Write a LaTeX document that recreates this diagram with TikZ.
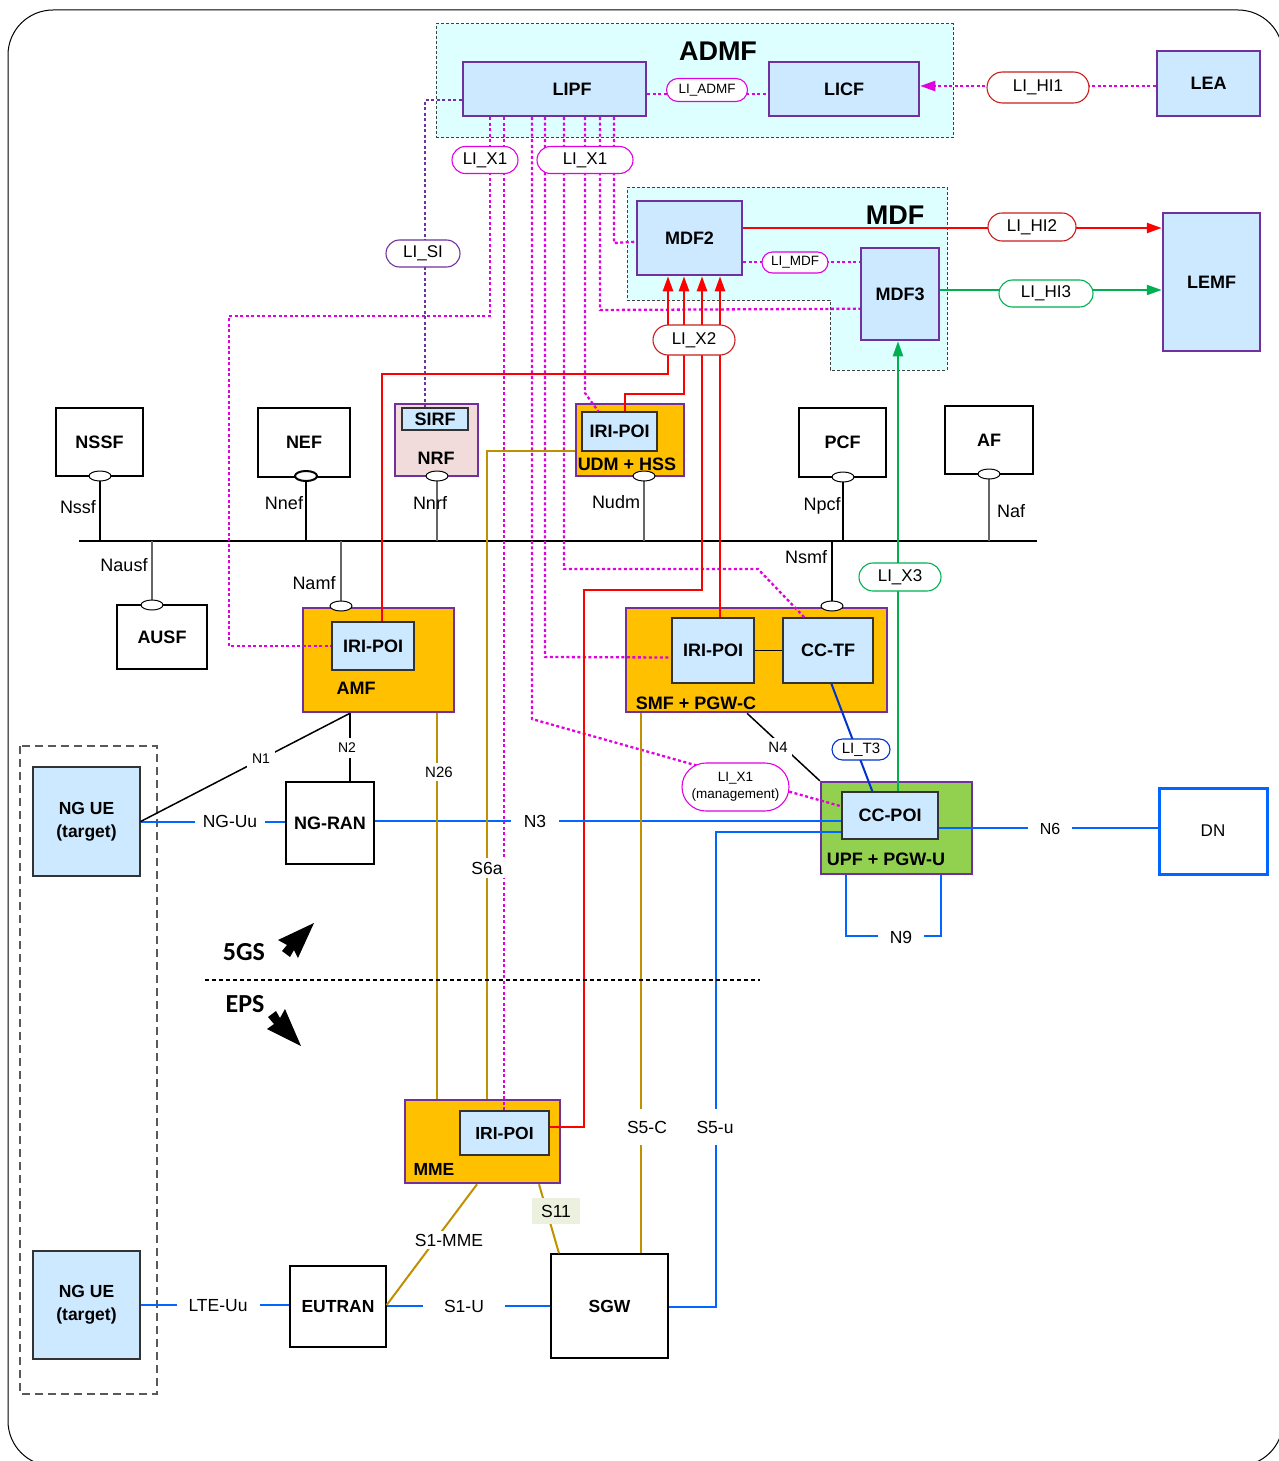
\documentclass[tikz,border=0pt]{standalone}
\usepackage{fontspec}
\setmainfont{Liberation Sans}
\newfontfamily\carl{Carlito}
\usetikzlibrary{shapes.misc,shapes.geometric,arrows.meta}
\definecolor{cyanbg}{RGB}{221,255,255}
\definecolor{lblue}{RGB}{204,233,255}
\definecolor{purp}{RGB}{112,48,160}
\definecolor{orng}{RGB}{255,192,0}
\definecolor{lgreen}{RGB}{146,208,80}
\definecolor{pinkf}{RGB}{242,220,219}
\definecolor{mag}{RGB}{224,0,224}
\definecolor{redl}{RGB}{255,0,0}
\definecolor{darkred}{RGB}{200,30,30}
\definecolor{greenl}{RGB}{0,176,80}
\definecolor{bluel}{RGB}{0,102,255}
\definecolor{blued}{RGB}{0,51,204}
\definecolor{gold}{RGB}{191,144,0}
\definecolor{s11bg}{RGB}{235,241,222}
\pgfdeclarelayer{bg}
\pgfdeclarelayer{fg}
\pgfsetlayers{bg,main,fg}
\newcommand\fsz[2]{\fontsize{#1}{#2}\selectfont}
\tikzset{
 wh/.style 2 args={minimum width=#1pt, minimum height=#2pt},
 pbox/.style={draw=purp, line width=2.5pt, fill=lblue, inner sep=0pt, font=\bfseries\fsz{18}{21}},
 cbox/.style={draw=purp, line width=2.5pt, inner sep=0pt},
 ibox/.style={draw=black!80, line width=1.3pt, fill=lblue, inner sep=0pt, font=\bfseries\fsz{18}{22}},
 wbox/.style={draw=black, line width=1.3pt, fill=white, inner sep=0pt, font=\bfseries\fsz{18}{21}},
 pill/.style={rounded rectangle, draw=#1, fill=white, line width=1.1pt, inner sep=0pt, font=\fsz{17}{20}},
 btxt/.style={inner sep=0pt, font=\bfseries\fsz{18}{21}},
 txt/.style={inner sep=0pt, font=\fsz{18}{21}},
 gap/.style={fill=white, inner xsep=#1pt, inner ysep=4pt, font=\fsz{17.5}{20}},
 vgap/.style={fill=white, inner xsep=3pt, inner ysep=#1pt, font=\fsz{17.5}{20}},
 ov/.style={ellipse, draw, fill=white, line width=1pt, minimum width=22pt, minimum height=10pt, inner sep=0pt},
 magd/.style={draw=mag, line width=2.3pt, dash pattern=on 3pt off 2.5pt},
 purd/.style={draw=purp, line width=2.6pt, dash pattern=on 3pt off 2.5pt},
 redw/.style={draw=redl, line width=2.5pt},
 grnw/.style={draw=greenl, line width=2.2pt},
 blw/.style={draw=bluel, line width=2pt},
 gldw/.style={draw=gold, line width=2pt},
 blk/.style={draw=black, line width=1.5pt},
 gry/.style={draw=black!60, line width=1.5pt},
 arrowend/.style={-{Triangle[length=15pt,width=10pt]}},
 region/.style={fill=cyanbg, draw=black!75, line width=1pt, dash pattern=on 3pt off 2pt, inner sep=0pt},
}
\begin{document}
\begin{tikzpicture}[x=1pt,y=-1pt]
\useasboundingbox (0,0) rectangle (1279,1461);
\begin{pgfonlayer}{bg}
\draw[line width=1pt, rounded corners=45pt] (8,10) rectangle (1283,1466);
\node[region, wh={517}{114}] (admf) at (694.5,81) {};
\draw[region] (627,187) -- (947,187) -- (947,370) -- (830,370) -- (830,300) -- (627,300) -- cycle;
\node[cbox, fill=pinkf, wh={83}{72}] (nrf) at (436.5,440) {};
\node[cbox, fill=orng, wh={108}{72}] (udm) at (630,440) {};
\node[cbox, fill=orng, wh={151}{104}] (amf) at (378.5,660) {};
\node[cbox, fill=orng, wh={261}{104}] (smf) at (756.5,660) {};
\node[cbox, fill=lgreen, wh={151}{92}] (upf) at (896.5,828) {};
\node[cbox, fill=orng, wh={155}{83}] (mme) at (482.5,1141.5) {};
\draw[draw=black!65, line width=1.5pt, dash pattern=on 8pt off 5pt] (20,746) rectangle (157,1394);
\end{pgfonlayer}

% boxes
\node[pbox, wh={183}{54}] (lipf) at (554.5,89) {};
\node[btxt] (lipft) at (572,89) {LIPF};
\node[pbox, wh={150}{54}] (licf) at (844,89) {LICF};
\node[pbox, wh={103}{65}] (lea) at (1208.5,83.5) {LEA};
\node[pbox, wh={105}{74}] (mdf2) at (689.5,238) {MDF2};
\node[pbox, wh={78}{92}] (mdf3) at (900,294) {MDF3};
\node[pbox, wh={97}{138}] (lemf) at (1211.5,282) {LEMF};
\node[ibox, wh={66}{22}] (sirf) at (435,419) {SIRF};
\node[ibox, wh={75}{39}] (udmiri) at (619.5,431.5) {IRI-POI};
\node[wbox, wh={87}{68}] (nssf) at (99.5,442) {NSSF};
\node[wbox, wh={92}{69}] (nef) at (304,442.5) {NEF};
\node[wbox, wh={87}{69}] (pcf) at (842.5,442.5) {PCF};
\node[wbox, wh={88}{68}] (af) at (989,440) {AF};
\node[wbox, wh={90}{64}] (ausf) at (162,637) {AUSF};
\node[ibox, wh={82}{48}] (amfiri) at (373,646) {IRI-POI};
\node[ibox, wh={82}{65}] (smfiri) at (713,650.5) {IRI-POI};
\node[ibox, wh={90}{65}] (cctf) at (828,650.5) {CC-TF};
\node[ibox, wh={96}{47}] (ccpoi) at (890,815.5) {CC-POI};
\node[draw=bluel, line width=3pt, fill=white, inner sep=0pt, wh={108}{86}, font=\fsz{17}{20}] (dn) at (1213,831) {DN};
\node[ibox, wh={107}{109}, align=center, font=\bfseries\fsz{17.5}{23}] (ngue1) at (86.5,821.5) {NG UE\\(target)};
\node[ibox, wh={107}{108}, align=center, font=\bfseries\fsz{17.5}{23}] (ngue2) at (86.5,1305) {NG UE\\(target)};
\node[wbox, wh={88}{82}] (ngran) at (330,823) {NG-RAN};
\node[ibox, wh={89}{44}, font=\bfseries\fsz{17.5}{21}] (mmeiri) at (504.5,1133) {IRI-POI};
\node[wbox, wh={96}{81}, font=\bfseries\fsz{17.5}{21}] (eutran) at (338,1306.5) {EUTRAN};
\node[wbox, wh={117}{104}, font=\bfseries\fsz{17.5}{21}] (sgw) at (609.5,1306) {SGW};

% service bus
\draw[line width=2pt] (79,541) coordinate (busl) -- (1037,541) coordinate (busr);
\draw[blk] (100,0 |- nssf.south) -- (100,541);
\draw[draw=black, line width=2.2pt] (306,0 |- nef.south) -- (306,541);
\draw[gry] (437,0 |- nrf.south) -- (437,541);
\draw[gry] (644,0 |- udm.south) -- (644,541);
\draw[blk] (843,0 |- pcf.south) -- (843,541);
\draw[gry] (989,0 |- af.south) -- (989,541);
\draw[gry] (152,541) -- (152,0 |- ausf.north);
\draw[gry] (341,541) -- (341,0 |- amf.north);
\draw[blk] (832,541) -- (832,0 |- smf.north);
\node[ov] (onssf) at (100,476) {};
\node[ov, line width=2pt] (onef) at (306,476) {};
\node[ov] (onrf) at (437,476) {};
\node[ov] (oudm) at (644,476) {};
\node[ov] (opcf) at (843,477) {};
\node[ov] (oaf) at (989,474) {};
\node[ov] (oausf) at (152,605) {};
\node[ov] (oamf) at (341,606) {};
\node[ov] (osmf) at (832,606) {};

% magenta LI_X1 lines
\draw[magd] (490,0 |- lipf.south) -- (490,316) -- (229,316) -- (229,0 |- amfiri.west) -- (amfiri.west);
\draw[magd] (504,0 |- lipf.south) -- (504,0 |- mmeiri.north);
\draw[magd] (532,0 |- lipf.south) -- (532,719) -- ([yshift=-15pt]ccpoi.north west);
\draw[magd] (545,0 |- lipf.south) -- (545,657) -- ([yshift=-7pt]smfiri.west);
\draw[magd] (564,0 |- lipf.south) -- (564,569) -- (758,569) -- ([xshift=22pt]cctf.north west);
\draw[magd] (585,0 |- lipf.south) -- (585,393) -- ([xshift=17pt]udmiri.north west);
\draw[magd] (600,0 |- lipf.south) -- (600,310) -- ([yshift=-62pt]mdf3.north west);
\draw[magd] (614,0 |- lipf.south) -- (614,243) -- ([yshift=-42pt]mdf2.north west);
\draw[magd] (lipf.east |- 0,94) -- (licf.west |- 0,94);
\draw[magd, arrowend] (lea.west |- 0,86) -- (licf.east |- 0,86);
\draw[magd] (mdf2.east |- 0,262) -- (mdf3.west |- 0,262);
\draw[purd] (lipf.west |- 0,100) -- (425,100) -- (425,0 |- sirf.north);

% red X2 / HI2
\draw[redw, arrowend] (668,340) -- (668,0 |- mdf2.south);
\draw[redw, arrowend] (684,340) -- (684,0 |- mdf2.south);
\draw[redw] (668,340) -- (668,374) -- (382,374) -- (382,0 |- amfiri.north);
\draw[redw] (684,340) -- (684,394) -- (625,394) -- (625,0 |- udmiri.north);
\draw[redw, {Triangle[length=15pt,width=10pt]}-] (702,0 |- mdf2.south) -- (702,590) -- (584,590) -- (584,1127) -- (mmeiri.east |- 0,1127);
\draw[redw, {Triangle[length=15pt,width=10pt]}-] (720,0 |- mdf2.south) -- (720,0 |- smfiri.north);
\draw[redw, arrowend] (mdf2.east |- 0,228) -- (lemf.west |- 0,228);

% green X3 / HI3
\draw[grnw, arrowend] (mdf3.east |- 0,290) -- (lemf.west |- 0,290);
\draw[grnw, arrowend] (898,0 |- ccpoi.north) -- (898,0 |- mdf3.south);

% blue
\draw[draw=blued, line width=2pt] ([xshift=49pt]cctf.south west) -- ([xshift=31pt]ccpoi.north west);
\draw[blw] (ngue1.east) -- (ngran.west |- ngue1.east);
\draw[blw] (ngran.east |- 0,821) -- (ccpoi.west |- 0,821);
\draw[blw] (ccpoi.west |- 0,832) -- (716,832) -- (716,1307) -- (sgw.east |- 0,1307);
\draw[blw] (ccpoi.east |- 0,828) -- (dn.west |- 0,828);
\draw[blw] (846,0 |- upf.south) -- (846,936) -- (941,936) -- (941,0 |- upf.south);
\draw[blw] (ngue2.east) -- (eutran.west |- ngue2.east);
\draw[blw] (eutran.east |- 0,1306) -- (sgw.west |- 0,1306);

% gold
\draw[gldw] (437,0 |- amf.south) -- (437,0 |- mme.north);
\draw[gldw] (udm.west |- 0,451) -- (487,451) -- (487,0 |- mme.north);
\draw[gldw] (641,0 |- smf.south) -- (641,0 |- sgw.north);
\draw[gldw] (477,0 |- mme.south) -- (eutran.east |- 0,1305);
\draw[gldw] (539,0 |- mme.south) -- (559,0 |- sgw.north);

% black
\draw[blk] (ngue1.east) -- (350,0 |- amf.south);
\draw[blk] (350,0 |- ngran.north) -- (350,0 |- amf.south);
\draw[blk] (747,0 |- smf.south) -- (upf.north west);
\draw[blk] (smfiri.east) -- (cctf.west);

% separator and 5GS / EPS
\draw[line width=2pt, dash pattern=on 4pt off 3pt] (205,980) -- (760,980);
\node[font=\carl\bfseries\fsz{26}{28}, inner sep=0pt] (g5) at (244,952) {5GS};
\node[font=\carl\bfseries\fsz{26}{28}, inner sep=0pt] (eps) at (245,1004) {EPS};
\fill (314,923) -- (278,940) -- (287,945) -- (282,951) -- (290,957) -- (294,950) -- (298,958) -- cycle;
\fill (301,1046) -- (267,1029) -- (274,1024) -- (268,1017) -- (276,1011) -- (280,1018) -- (285,1009) -- cycle;

% container texts
\node[btxt] (nrft) at (436,458) {NRF};
\node[btxt] (udmt) at (627,464) {UDM + HSS};
\node[btxt] (amft) at (356,688) {AMF};
\node[btxt] (smft) at (696,703) {SMF + PGW-C};
\node[btxt] (upft) at (886,859) {UPF + PGW-U};
\node[btxt, font=\bfseries\fsz{17.5}{21}] (mmet) at (434,1169) {MME};
\node[font=\bfseries\fsz{27}{30}, inner sep=0pt] (admft) at (718,51) {ADMF};
\node[font=\bfseries\fsz{27}{30}, inner sep=0pt] (mdft) at (895,215) {MDF};

% pills
\node[pill=mag, wh={66}{27}] (x1a) at (485,160) {LI\_X1};
\node[pill=mag, wh={96}{27}] (x1b) at (585,160) {LI\_X1};
\node[pill=mag, wh={81}{23}, font=\fsz{13.5}{16}] (liadmf) at (707,90) {LI\_ADMF};
\node[pill=darkred, wh={102}{31}] (hi1) at (1038,87.5) {LI\_HI1};
\node[pill=mag, wh={66}{21}, font=\fsz{13.5}{16}] (limdf) at (795,262.5) {LI\_MDF};
\node[pill=darkred, wh={88}{28}] (hi2) at (1032,227) {LI\_HI2};
\node[pill=greenl, wh={94}{27}] (hi3) at (1046,293.5) {LI\_HI3};
\node[pill=darkred, wh={82}{30}] (x2) at (694,340) {LI\_X2};
\node[pill=purp, wh={74}{27}] (lisi) at (423,253.5) {LI\_SI};
\node[pill=greenl, wh={82}{28}] (x3) at (900,577) {LI\_X3};
\node[pill=blued, wh={58}{21}, font=\fsz{15}{18}] (t3) at (861,749.5) {LI\_T3};
\node[pill=mag, wh={107}{48}, align=center, font=\fsz{13.5}{17}] (x1m) at (735.5,787) {LI\_X1\\(management)};

% interface labels
\node[txt] (lnssf) at (78,507) {Nssf};
\node[txt] (lnnef) at (284,503) {Nnef};
\node[txt] (lnnrf) at (430,503) {Nnrf};
\node[txt] (lnudm) at (616,502) {Nudm};
\node[txt] (lnpcf) at (822,506) {Npcf};
\node[txt] (lnaf) at (1011,511) {Naf};
\node[txt] (lnausf) at (124,565) {Nausf};
\node[txt] (lnamf) at (314,583) {Namf};
\node[txt] (lnsmf) at (806,557) {Nsmf};
\node[gap=8] (lnguu) at (230,821) {NG-Uu};
\node[gap=13] (ln3) at (535,821) {N3};
\node[gap=12, font=\fsz{16}{19}] (ln6) at (1050,829) {N6};
\node[gap=12] (ln9) at (901,937) {N9};
\node[vgap=12] (ls5c) at (647,1127) {S5-C};
\node[vgap=12] (ls5u) at (715,1127) {S5-u};
\node[fill=white, inner sep=3pt, font=\fsz{17.5}{20}] (ls1mme) at (449,1240) {S1-MME};
\node[fill=s11bg, inner sep=0pt, wh={48}{26}, font=\fsz{17.5}{20}] (ls11) at (556,1211) {S11};
\node[gap=21] (ls1u) at (464,1306) {S1-U};
\node[gap=12] (llteuu) at (218,1306) {LTE-Uu};
\node[fill=white, inner sep=5pt, font=\fsz{14}{16}] (ln1) at (261,759) {N1};
\node[fill=white, inner xsep=2pt, inner ysep=5pt, font=\fsz{14}{16}] (ln2) at (347,748) {N2};
\node[fill=white, inner xsep=2pt, inner ysep=4pt, font=\fsz{15}{17}] (ln26) at (439,772) {N26};
\node[fill=white, inner xsep=2pt, inner ysep=4pt, font=\fsz{17.5}{20}] (ls6a) at (487,868) {S6a};
\node[fill=white, inner sep=4pt, font=\fsz{15}{17}] (ln4) at (778,747) {N4};
\end{tikzpicture}
\end{document}
